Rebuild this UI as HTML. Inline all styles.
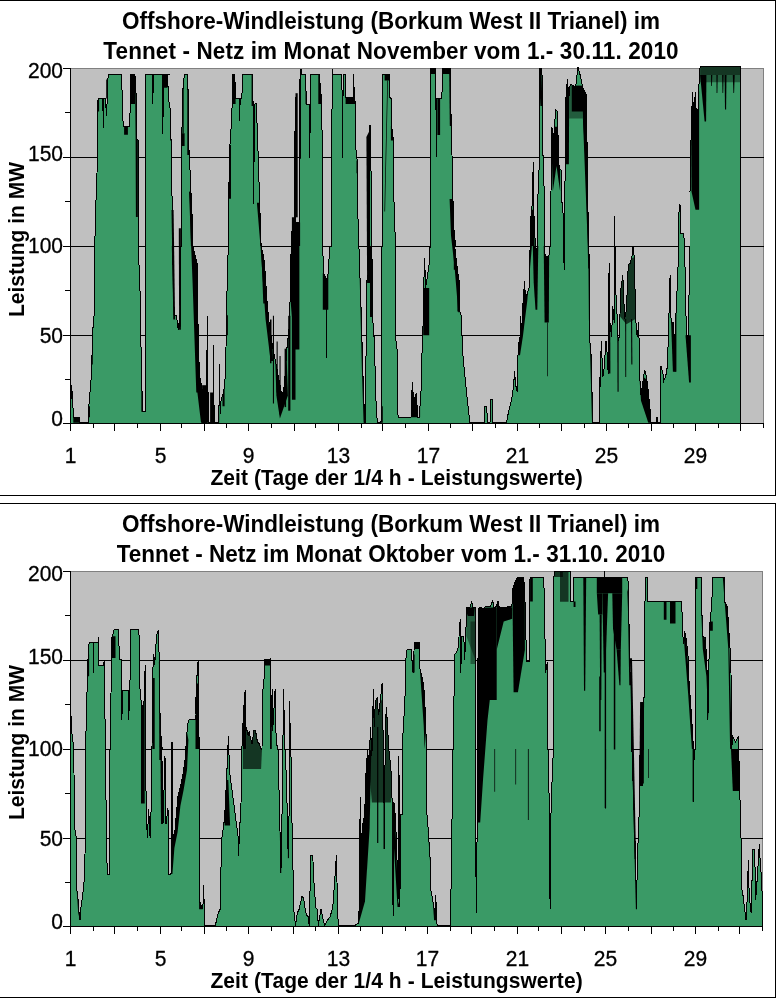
<!DOCTYPE html>
<html><head><meta charset="utf-8"><style>
html,body{margin:0;padding:0;background:#fff;width:778px;height:999px;overflow:hidden}
svg{display:block}
text{font-family:"Liberation Sans",Arial,sans-serif;fill:#000}
.t{font-size:22.5px;font-weight:bold;text-anchor:middle}
.yl{font-size:21px;text-anchor:end;stroke:#000;stroke-width:0.3px}
.xl{font-size:21px;text-anchor:middle;stroke:#000;stroke-width:0.3px}
.xt{font-size:21px;font-weight:bold;text-anchor:middle}
.yt{font-size:21px;font-weight:bold;text-anchor:middle}
</style></head><body>
<svg width="778" height="999" viewBox="0 0 778 999" shape-rendering="crispEdges">
<rect x="0" y="0" width="776" height="1" fill="#000"/>
<rect x="0" y="495" width="776" height="1" fill="#000"/>
<rect x="775" y="0" width="1" height="496" fill="#000"/>
<rect x="70" y="68" width="694" height="356" fill="#c0c0c0"/>
<rect x="70" y="68" width="694" height="1" fill="#808080"/>
<rect x="763" y="68" width="1" height="356" fill="#808080"/>
<rect x="70" y="157" width="694" height="1" fill="#000"/>
<rect x="70" y="246" width="694" height="1" fill="#000"/>
<rect x="70" y="335" width="694" height="1" fill="#000"/>
<clipPath id="clip0"><path d="M70.0,423.5 L70.0,381.7 L70.9,384.4 L72.2,391.7 L72.7,399.0 L73.3,417.2 L79.1,417.2 L79.5,422.7 L88.2,422.7 L88.8,406.3 L90.0,391.7 L90.9,384.4 L91.5,364.4 L92.2,351.6 L92.8,335.3 L93.3,317.0 L94.2,316.1 L94.2,246.0 L94.6,246.0 L95.5,224.3 L95.9,206.1 L96.4,180.6 L97.0,173.3 L97.3,155.1 L97.3,107.7 L97.7,102.3 L98.2,98.2 L102.8,98.2 L103.3,127.8 L103.9,98.2 L105.5,98.2 L106.4,115.9 L107.3,98.2 L107.7,79.5 L108.6,74.6 L121.5,74.6 L122.5,104.1 L123.2,126.8 L129.2,126.8 L130.1,111.4 L130.7,104.1 L131.0,74.0 L134.8,74.0 L135.9,82.2 L136.5,138.7 L138.3,140.5 L138.3,246.0 L138.3,246.0 L140.1,293.4 L140.1,335.3 L141.4,351.6 L141.9,388.1 L142.9,411.8 L145.2,411.8 L145.2,246.0 L145.2,246.0 L145.2,74.6 L152.5,74.6 L152.9,104.1 L153.2,74.6 L162.5,74.6 L162.9,134.1 L163.3,74.6 L170.0,74.6 L167.8,74.6 L168.2,96.8 L170.0,107.7 L170.9,133.2 L171.8,180.6 L172.7,246.0 L172.7,246.0 L173.6,300.6 L174.6,315.2 L176.4,315.2 L178.2,329.8 L180.0,315.2 L180.9,300.6 L180.9,246.0 L181.3,246.0 L181.3,146.0 L181.8,136.9 L182.8,91.3 L183.7,79.5 L184.9,74.0 L187.7,74.0 L187.9,79.5 L188.2,104.1 L189.1,155.1 L190.0,169.6 L190.9,191.5 L191.9,209.7 L192.8,246.0 L192.8,246.0 L197.3,264.2 L197.7,318.9 L198.8,335.3 L199.1,373.5 L201.9,388.1 L203.7,406.3 L204.6,422.7 L206.4,422.7 L207.3,316.1 L208.3,422.7 L213.4,422.7 L213.7,345.3 L214.1,422.7 L216.4,422.7 L218.8,422.7 L219.5,364.4 L220.1,413.6 L221.0,400.8 L223.7,391.7 L225.6,373.5 L226.5,315.2 L227.4,273.3 L228.3,246.0 L228.7,246.0 L228.7,198.8 L229.7,145.1 L230.1,144.1 L231.6,118.6 L232.3,100.4 L232.8,74.0 L234.7,74.0 L235.6,98.2 L239.4,98.2 L239.8,121.4 L240.1,98.2 L241.9,98.2 L242.5,74.0 L252.0,74.0 L252.9,85.9 L253.8,204.3 L254.3,105.9 L255.2,103.2 L256.3,103.2 L257.4,133.2 L258.3,158.7 L259.3,191.5 L260.2,218.8 L261.1,246.0 L263.8,257.5 L264.9,269.0 L267.2,303.4 L269.5,326.4 L273.0,349.4 L277.6,372.4 L281.0,390.8 L282.2,395.4 L283.3,390.8 L284.5,383.9 L286.8,349.4 L289.1,328.7 L290.2,296.6 L291.4,234.5 L293.7,222.5 L294.8,222.5 L295.1,97.7 L295.5,97.7 L295.9,222.5 L299.1,222.5 L299.5,100.4 L300.1,74.9 L301.0,68.6 L301.3,74.0 L305.5,74.0 L306.4,104.1 L309.2,104.1 L309.7,157.8 L310.4,104.1 L311.0,74.9 L318.3,74.0 L319.2,74.0 L321.9,104.1 L322.5,246.0 L322.8,246.0 L323.4,273.3 L326.1,278.8 L326.5,358.0 L326.8,278.8 L328.3,273.3 L329.7,246.0 L331.0,246.0 L331.0,136.9 L331.9,118.6 L332.5,68.6 L332.8,74.6 L341.9,74.6 L342.5,157.8 L343.2,74.6 L345.6,74.6 L345.6,97.7 L353.4,97.7 L353.8,74.0 L354.2,97.7 L355.6,104.1 L355.6,146.0 L357.4,162.4 L358.3,246.0 L358.9,246.0 L361.1,309.8 L362.9,373.5 L364.7,422.7 L365.4,422.7 L366.2,337.1 L366.5,282.4 L368.4,273.3 L369.3,246.0 L369.6,125.9 L370.5,125.9 L372.7,318.9 L374.6,344.4 L375.5,391.7 L377.3,422.7 L380.9,422.7 L381.8,406.3 L381.8,246.0 L382.4,246.0 L382.4,74.0 L389.7,74.0 L390.0,97.7 L391.5,98.6 L391.9,127.8 L392.8,135.0 L393.3,140.5 L393.7,191.5 L394.6,220.6 L395.5,246.0 L395.5,246.0 L395.5,337.1 L397.3,351.6 L397.3,406.3 L398.2,417.2 L411.0,417.2 L412.3,381.7 L413.7,400.8 L416.4,393.5 L417.7,417.2 L419.2,417.2 L421.0,391.7 L421.9,355.3 L422.8,337.1 L423.7,287.9 L424.6,257.8 L425.6,287.9 L429.2,264.2 L430.1,246.0 L430.5,246.0 L430.5,68.6 L435.2,68.6 L435.9,98.6 L436.5,156.9 L437.0,98.6 L441.9,98.6 L442.5,68.0 L450.1,68.0 L451.1,118.6 L452.0,155.1 L452.9,197.0 L453.8,227.9 L455.6,246.0 L454.7,246.0 L457.4,269.7 L459.3,282.4 L459.3,309.8 L461.1,315.2 L462.9,355.3 L464.7,373.5 L466.5,391.7 L468.4,409.9 L470.0,422.7 L470.0,421.8 L470.9,422.7 L484.6,422.7 L484.9,406.3 L486.8,406.3 L487.3,422.7 L490.0,422.7 L490.9,399.0 L492.2,399.0 L492.8,422.7 L506.4,422.7 L508.2,413.6 L510.0,406.3 L511.8,399.0 L513.7,384.4 L514.6,370.8 L515.5,384.4 L517.3,391.7 L518.2,346.2 L520.0,337.1 L520.4,316.1 L521.9,333.4 L522.8,306.1 L524.6,280.6 L525.5,300.6 L527.3,293.4 L529.1,287.9 L530.1,246.0 L530.1,222.5 L531.9,209.7 L533.3,162.4 L534.1,222.5 L535.5,246.0 L535.9,256.9 L537.3,246.0 L537.3,246.0 L538.3,173.3 L539.2,169.6 L539.7,68.0 L541.0,68.0 L542.8,80.4 L542.3,136.9 L543.7,173.3 L544.6,209.7 L544.6,246.0 L545.2,256.9 L548.8,256.9 L550.1,246.0 L551.0,191.5 L551.9,126.8 L552.8,136.9 L554.1,133.2 L555.6,109.5 L557.4,111.4 L558.3,146.0 L559.2,169.6 L561.0,169.6 L561.9,202.4 L562.8,204.3 L563.8,246.0 L564.1,269.7 L564.5,246.0 L564.7,246.0 L565.2,146.0 L565.9,98.6 L567.4,79.5 L568.9,96.8 L570.1,84.9 L571.9,84.9 L573.8,85.9 L575.6,87.7 L578.0,66.7 L580.1,74.9 L582.9,87.7 L584.7,91.3 L586.0,93.1 L587.1,146.0 L587.8,187.9 L588.3,246.0 L589.3,256.9 L589.3,335.3 L591.1,355.3 L592.0,391.7 L592.9,422.7 L599.1,422.7 L599.1,377.1 L600.0,388.1 L601.3,340.7 L602.8,377.1 L603.7,373.5 L606.0,340.7 L607.3,355.3 L608.2,373.5 L609.1,263.3 L610.0,322.5 L611.5,337.1 L612.8,306.1 L614.2,322.5 L614.4,246.0 L614.4,216.1 L614.8,216.1 L615.0,246.0 L615.1,282.4 L616.4,300.6 L618.2,340.7 L619.1,337.1 L621.0,287.9 L622.8,275.1 L624.6,318.9 L626.4,309.8 L628.3,264.2 L630.1,263.3 L631.9,256.9 L633.0,246.0 L633.4,246.0 L634.6,264.2 L635.2,300.6 L636.4,333.4 L637.4,335.3 L638.8,322.5 L639.5,373.5 L641.0,395.4 L642.8,382.6 L644.6,369.9 L646.5,377.1 L648.3,391.7 L650.1,409.9 L651.0,422.7 L656.7,422.7 L657.0,417.2 L657.4,422.7 L660.1,422.7 L661.0,366.2 L662.9,373.5 L663.8,380.8 L665.6,377.1 L667.4,366.2 L668.3,337.1 L670.1,275.1 L671.1,322.5 L673.8,322.5 L674.7,369.9 L675.6,322.5 L677.4,282.4 L678.9,246.0 L678.2,218.8 L680.0,204.3 L680.9,233.4 L683.7,233.4 L684.6,246.0 L686.4,335.3 L688.2,335.3 L690.0,246.0 L690.0,191.5 L691.5,115.0 L692.8,92.2 L693.3,115.0 L695.5,92.2 L696.4,118.6 L697.3,125.9 L699.1,82.2 L700.1,66.7 L740.7,66.7 L740.7,246.0 L740.7,423.5Z"/></clipPath>
<path d="M70.0,423.5 L70.0,381.7 L70.9,384.4 L72.2,391.7 L72.7,399.0 L73.3,417.2 L79.1,417.2 L79.5,422.7 L88.2,422.7 L88.8,406.3 L90.0,391.7 L90.9,384.4 L91.5,364.4 L92.2,351.6 L92.8,335.3 L93.3,317.0 L94.2,316.1 L94.2,246.0 L94.6,246.0 L95.5,224.3 L95.9,206.1 L96.4,180.6 L97.0,173.3 L97.3,155.1 L97.3,107.7 L97.7,102.3 L98.2,98.2 L102.8,98.2 L103.3,127.8 L103.9,98.2 L105.5,98.2 L106.4,115.9 L107.3,98.2 L107.7,79.5 L108.6,74.6 L121.5,74.6 L122.5,104.1 L123.2,126.8 L129.2,126.8 L130.1,111.4 L130.7,104.1 L131.0,74.0 L134.8,74.0 L135.9,82.2 L136.5,138.7 L138.3,140.5 L138.3,246.0 L138.3,246.0 L140.1,293.4 L140.1,335.3 L141.4,351.6 L141.9,388.1 L142.9,411.8 L145.2,411.8 L145.2,246.0 L145.2,246.0 L145.2,74.6 L152.5,74.6 L152.9,104.1 L153.2,74.6 L162.5,74.6 L162.9,134.1 L163.3,74.6 L170.0,74.6 L167.8,74.6 L168.2,96.8 L170.0,107.7 L170.9,133.2 L171.8,180.6 L172.7,246.0 L172.7,246.0 L173.6,300.6 L174.6,315.2 L176.4,315.2 L178.2,329.8 L180.0,315.2 L180.9,300.6 L180.9,246.0 L181.3,246.0 L181.3,146.0 L181.8,136.9 L182.8,91.3 L183.7,79.5 L184.9,74.0 L187.7,74.0 L187.9,79.5 L188.2,104.1 L189.1,155.1 L190.0,169.6 L190.9,191.5 L191.9,209.7 L192.8,246.0 L192.8,246.0 L197.3,264.2 L197.7,318.9 L198.8,335.3 L199.1,373.5 L201.9,388.1 L203.7,406.3 L204.6,422.7 L206.4,422.7 L207.3,316.1 L208.3,422.7 L213.4,422.7 L213.7,345.3 L214.1,422.7 L216.4,422.7 L218.8,422.7 L219.5,364.4 L220.1,413.6 L221.0,400.8 L223.7,391.7 L225.6,373.5 L226.5,315.2 L227.4,273.3 L228.3,246.0 L228.7,246.0 L228.7,198.8 L229.7,145.1 L230.1,144.1 L231.6,118.6 L232.3,100.4 L232.8,74.0 L234.7,74.0 L235.6,98.2 L239.4,98.2 L239.8,121.4 L240.1,98.2 L241.9,98.2 L242.5,74.0 L252.0,74.0 L252.9,85.9 L253.8,204.3 L254.3,105.9 L255.2,103.2 L256.3,103.2 L257.4,133.2 L258.3,158.7 L259.3,191.5 L260.2,218.8 L261.1,246.0 L263.8,257.5 L264.9,269.0 L267.2,303.4 L269.5,326.4 L273.0,349.4 L277.6,372.4 L281.0,390.8 L282.2,395.4 L283.3,390.8 L284.5,383.9 L286.8,349.4 L289.1,328.7 L290.2,296.6 L291.4,234.5 L293.7,222.5 L294.8,222.5 L295.1,97.7 L295.5,97.7 L295.9,222.5 L299.1,222.5 L299.5,100.4 L300.1,74.9 L301.0,68.6 L301.3,74.0 L305.5,74.0 L306.4,104.1 L309.2,104.1 L309.7,157.8 L310.4,104.1 L311.0,74.9 L318.3,74.0 L319.2,74.0 L321.9,104.1 L322.5,246.0 L322.8,246.0 L323.4,273.3 L326.1,278.8 L326.5,358.0 L326.8,278.8 L328.3,273.3 L329.7,246.0 L331.0,246.0 L331.0,136.9 L331.9,118.6 L332.5,68.6 L332.8,74.6 L341.9,74.6 L342.5,157.8 L343.2,74.6 L345.6,74.6 L345.6,97.7 L353.4,97.7 L353.8,74.0 L354.2,97.7 L355.6,104.1 L355.6,146.0 L357.4,162.4 L358.3,246.0 L358.9,246.0 L361.1,309.8 L362.9,373.5 L364.7,422.7 L365.4,422.7 L366.2,337.1 L366.5,282.4 L368.4,273.3 L369.3,246.0 L369.6,125.9 L370.5,125.9 L372.7,318.9 L374.6,344.4 L375.5,391.7 L377.3,422.7 L380.9,422.7 L381.8,406.3 L381.8,246.0 L382.4,246.0 L382.4,74.0 L389.7,74.0 L390.0,97.7 L391.5,98.6 L391.9,127.8 L392.8,135.0 L393.3,140.5 L393.7,191.5 L394.6,220.6 L395.5,246.0 L395.5,246.0 L395.5,337.1 L397.3,351.6 L397.3,406.3 L398.2,417.2 L411.0,417.2 L412.3,381.7 L413.7,400.8 L416.4,393.5 L417.7,417.2 L419.2,417.2 L421.0,391.7 L421.9,355.3 L422.8,337.1 L423.7,287.9 L424.6,257.8 L425.6,287.9 L429.2,264.2 L430.1,246.0 L430.5,246.0 L430.5,68.6 L435.2,68.6 L435.9,98.6 L436.5,156.9 L437.0,98.6 L441.9,98.6 L442.5,68.0 L450.1,68.0 L451.1,118.6 L452.0,155.1 L452.9,197.0 L453.8,227.9 L455.6,246.0 L454.7,246.0 L457.4,269.7 L459.3,282.4 L459.3,309.8 L461.1,315.2 L462.9,355.3 L464.7,373.5 L466.5,391.7 L468.4,409.9 L470.0,422.7 L470.0,421.8 L470.9,422.7 L484.6,422.7 L484.9,406.3 L486.8,406.3 L487.3,422.7 L490.0,422.7 L490.9,399.0 L492.2,399.0 L492.8,422.7 L506.4,422.7 L508.2,413.6 L510.0,406.3 L511.8,399.0 L513.7,384.4 L514.6,370.8 L515.5,384.4 L517.3,391.7 L518.2,346.2 L520.0,337.1 L520.4,316.1 L521.9,333.4 L522.8,306.1 L524.6,280.6 L525.5,300.6 L527.3,293.4 L529.1,287.9 L530.1,246.0 L530.1,222.5 L531.9,209.7 L533.3,162.4 L534.1,222.5 L535.5,246.0 L535.9,256.9 L537.3,246.0 L537.3,246.0 L538.3,173.3 L539.2,169.6 L539.7,68.0 L541.0,68.0 L542.8,80.4 L542.3,136.9 L543.7,173.3 L544.6,209.7 L544.6,246.0 L545.2,256.9 L548.8,256.9 L550.1,246.0 L551.0,191.5 L551.9,126.8 L552.8,136.9 L554.1,133.2 L555.6,109.5 L557.4,111.4 L558.3,146.0 L559.2,169.6 L561.0,169.6 L561.9,202.4 L562.8,204.3 L563.8,246.0 L564.1,269.7 L564.5,246.0 L564.7,246.0 L565.2,146.0 L565.9,98.6 L567.4,79.5 L568.9,96.8 L570.1,84.9 L571.9,84.9 L573.8,85.9 L575.6,87.7 L578.0,66.7 L580.1,74.9 L582.9,87.7 L584.7,91.3 L586.0,93.1 L587.1,146.0 L587.8,187.9 L588.3,246.0 L589.3,256.9 L589.3,335.3 L591.1,355.3 L592.0,391.7 L592.9,422.7 L599.1,422.7 L599.1,377.1 L600.0,388.1 L601.3,340.7 L602.8,377.1 L603.7,373.5 L606.0,340.7 L607.3,355.3 L608.2,373.5 L609.1,263.3 L610.0,322.5 L611.5,337.1 L612.8,306.1 L614.2,322.5 L614.4,246.0 L614.4,216.1 L614.8,216.1 L615.0,246.0 L615.1,282.4 L616.4,300.6 L618.2,340.7 L619.1,337.1 L621.0,287.9 L622.8,275.1 L624.6,318.9 L626.4,309.8 L628.3,264.2 L630.1,263.3 L631.9,256.9 L633.0,246.0 L633.4,246.0 L634.6,264.2 L635.2,300.6 L636.4,333.4 L637.4,335.3 L638.8,322.5 L639.5,373.5 L641.0,395.4 L642.8,382.6 L644.6,369.9 L646.5,377.1 L648.3,391.7 L650.1,409.9 L651.0,422.7 L656.7,422.7 L657.0,417.2 L657.4,422.7 L660.1,422.7 L661.0,366.2 L662.9,373.5 L663.8,380.8 L665.6,377.1 L667.4,366.2 L668.3,337.1 L670.1,275.1 L671.1,322.5 L673.8,322.5 L674.7,369.9 L675.6,322.5 L677.4,282.4 L678.9,246.0 L678.2,218.8 L680.0,204.3 L680.9,233.4 L683.7,233.4 L684.6,246.0 L686.4,335.3 L688.2,335.3 L690.0,246.0 L690.0,191.5 L691.5,115.0 L692.8,92.2 L693.3,115.0 L695.5,92.2 L696.4,118.6 L697.3,125.9 L699.1,82.2 L700.1,66.7 L740.7,66.7 L740.7,246.0 L740.7,423.5Z" fill="#3a9a66" shape-rendering="auto"/>
<g clip-path="url(#clip0)">
<path d="M70.0,381.7 L72.2,381.7 L72.7,399.0 L70.0,399.0Z" fill="#000" shape-rendering="auto"/>
<path d="M73.3,417.2 L79.1,417.2 L79.1,422.7 L73.3,422.7Z" fill="#000" shape-rendering="auto"/>
<path d="M88.2,406.3 L90.0,406.3 L90.0,417.2 L88.2,417.2Z" fill="#000" shape-rendering="auto"/>
<path d="M90.9,351.6 L92.8,351.6 L92.8,364.4 L90.9,364.4Z" fill="#000" shape-rendering="auto"/>
<path d="M97.0,98.2 L99.1,98.2 L99.1,111.4 L97.0,111.4Z" fill="#000" shape-rendering="auto"/>
<path d="M124.1,126.8 L127.9,126.8 L127.9,134.7 L124.1,134.7Z" fill="#000" shape-rendering="auto"/>
<path d="M130.7,74.0 L135.0,74.0 L135.0,104.1 L130.7,104.1Z" fill="#000" shape-rendering="auto"/>
<path d="M135.0,74.0 L136.5,74.0 L137.8,138.7 L137.8,217.0 L135.9,217.0 L135.6,138.7Z" fill="#000" shape-rendering="auto"/>
<path d="M141.9,388.1 L145.2,388.1 L145.2,411.8 L141.9,411.8Z" fill="#000" shape-rendering="auto"/>
<path d="M162.9,74.0 L167.4,74.0 L167.4,87.7 L162.9,87.7Z" fill="#000" shape-rendering="auto"/>
<path d="M170.0,107.7 L170.9,107.7 L170.9,140.5 L170.0,140.5Z" fill="#000" shape-rendering="auto"/>
<path d="M171.8,246.0 L175.5,246.0 L175.5,315.2 L173.6,315.2Z" fill="#000" shape-rendering="auto"/>
<path d="M178.2,246.0 L180.9,246.0 L180.9,329.8 L179.1,329.8Z" fill="#000" shape-rendering="auto"/>
<path d="M180.9,133.2 L184.6,133.2 L184.6,146.0 L180.9,146.0Z" fill="#000" shape-rendering="auto"/>
<path d="M182.4,79.5 L183.7,79.5 L183.7,133.2 L182.4,133.2Z" fill="#000" shape-rendering="auto"/>
<path d="M187.3,79.5 L189.1,79.5 L189.1,155.1 L187.3,155.1Z" fill="#000" shape-rendering="auto"/>
<path d="M189.7,191.5 L191.9,191.5 L193.3,246.0 L190.9,246.0Z" fill="#000" shape-rendering="auto"/>
<path d="M192.8,251.5 L197.3,251.5 L199.1,373.5 L201.9,388.1 L203.7,406.3 L204.6,422.7 L201.0,422.7 L197.3,391.7 L195.5,318.9Z" fill="#000" shape-rendering="auto"/>
<path d="M201.9,382.6 L219.2,382.6 L219.2,422.7 L201.9,422.7Z" fill="#000" shape-rendering="auto"/>
<path d="M222.5,373.5 L224.6,373.5 L224.6,406.3 L222.5,406.3Z" fill="#000" shape-rendering="auto"/>
<path d="M225.6,315.2 L227.9,315.2 L227.9,335.3 L225.6,335.3Z" fill="#000" shape-rendering="auto"/>
<path d="M228.3,145.1 L231.0,145.1 L231.0,198.8 L228.3,198.8Z" fill="#000" shape-rendering="auto"/>
<path d="M231.9,74.0 L235.6,74.0 L235.6,104.1 L231.9,104.1Z" fill="#000" shape-rendering="auto"/>
<path d="M251.6,74.0 L253.8,74.0 L253.8,105.9 L251.6,105.9Z" fill="#000" shape-rendering="auto"/>
<path d="M258.3,140.5 L259.6,140.5 L261.4,246.0 L260.2,246.0Z" fill="#000" shape-rendering="auto"/>
<path d="M262.9,227.9 L265.6,227.9 L265.6,246.0 L262.9,246.0Z" fill="#000" shape-rendering="auto"/>
<path d="M291.9,222.5 L300.1,222.5 L300.1,246.0 L291.9,246.0Z" fill="#000" shape-rendering="auto"/>
<path d="M297.3,74.9 L301.0,74.9 L301.0,158.7 L297.3,158.7Z" fill="#000" shape-rendering="auto"/>
<path d="M305.5,74.0 L309.2,74.0 L309.2,104.1 L305.5,104.1Z" fill="#000" shape-rendering="auto"/>
<path d="M318.3,74.0 L322.8,74.0 L322.8,104.1 L318.3,104.1Z" fill="#000" shape-rendering="auto"/>
<path d="M322.8,273.3 L328.3,273.3 L328.3,309.8 L322.8,309.8Z" fill="#000" shape-rendering="auto"/>
<path d="M345.6,97.7 L355.6,97.7 L355.6,104.1 L345.6,104.1Z" fill="#000" shape-rendering="auto"/>
<path d="M356.5,160.5 L359.3,160.5 L359.3,173.3 L356.5,173.3Z" fill="#000" shape-rendering="auto"/>
<path d="M358.9,246.0 L360.7,246.0 L363.3,373.5 L365.1,422.7 L363.6,422.7 L362.0,373.5Z" fill="#000" shape-rendering="auto"/>
<path d="M370.0,246.0 L372.7,246.0 L372.7,317.0 L370.0,317.0Z" fill="#000" shape-rendering="auto"/>
<path d="M377.3,406.3 L382.8,406.3 L382.8,422.7 L377.3,422.7Z" fill="#000" shape-rendering="auto"/>
<path d="M430.5,68.0 L435.6,68.0 L435.6,74.0 L430.5,74.0Z" fill="#000" shape-rendering="auto"/>
<path d="M441.9,68.0 L450.1,68.0 L450.1,74.0 L441.9,74.0Z" fill="#000" shape-rendering="auto"/>
<path d="M437.4,98.6 L440.1,98.6 L440.1,135.0 L437.4,135.0Z" fill="#000" shape-rendering="auto"/>
<path d="M384.6,74.0 L389.7,74.0 L389.7,80.4 L384.6,80.4Z" fill="#000" shape-rendering="auto"/>
<path d="M387.3,80.4 L388.0,80.4 L385.8,176.9 L385.1,211.5 L384.4,211.5 L385.1,176.9Z" fill="#000" shape-rendering="auto"/>
<path d="M390.9,125.9 L393.7,125.9 L393.7,140.5 L390.9,140.5Z" fill="#000" shape-rendering="auto"/>
<path d="M449.2,74.0 L451.6,74.0 L451.6,125.9 L449.8,125.9Z" fill="#000" shape-rendering="auto"/>
<path d="M452.9,197.0 L454.7,197.0 L456.0,246.0 L453.8,246.0Z" fill="#000" shape-rendering="auto"/>
<path d="M411.0,391.7 L420.1,391.7 L420.1,417.2 L411.0,417.2Z" fill="#000" shape-rendering="auto"/>
<path d="M423.2,287.9 L429.2,287.9 L429.2,335.3 L423.2,335.3Z" fill="#000" shape-rendering="auto"/>
<path d="M453.8,246.0 L456.5,246.0 L456.5,269.7 L453.8,269.7Z" fill="#000" shape-rendering="auto"/>
<path d="M457.4,273.3 L461.1,273.3 L461.1,311.6 L457.4,311.6Z" fill="#000" shape-rendering="auto"/>
<path d="M690.9,91.3 L699.1,91.3 L699.1,209.7 L695.5,209.7 L691.5,191.5Z" fill="#000" shape-rendering="auto"/>
<path d="M700.1,66.7 L740.7,66.7 L740.7,74.9 L700.1,74.9Z" fill="#000" fill-opacity="0.65" shape-rendering="auto"/>
<path d="M700.1,74.9 L740.7,74.9 L740.7,82.2 L700.1,82.2Z" fill="#000" fill-opacity="0.4" shape-rendering="auto"/>
<path d="M700.1,74.9 L706.4,74.9 L706.1,121.4 L704.6,121.4Z" fill="#000" shape-rendering="auto"/>
<path d="M711.0,74.9 L712.3,74.9 L711.9,85.9 L711.2,85.9Z" fill="#000" shape-rendering="auto"/>
<path d="M716.4,74.9 L717.7,74.9 L717.4,93.1 L716.6,93.1Z" fill="#000" shape-rendering="auto"/>
<path d="M722.1,74.9 L723.6,74.9 L723.2,93.1 L722.5,93.1Z" fill="#000" shape-rendering="auto"/>
<path d="M724.6,74.9 L726.5,74.9 L726.1,109.5 L725.0,109.5Z" fill="#000" shape-rendering="auto"/>
<path d="M732.8,74.9 L734.7,74.9 L734.1,93.1 L733.4,93.1Z" fill="#000" shape-rendering="auto"/>
<path d="M674.6,300.6 L676.4,300.6 L676.4,371.7 L674.6,371.7Z" fill="#000" shape-rendering="auto"/>
<path d="M685.5,335.3 L690.9,335.3 L690.9,382.6 L689.1,382.6Z" fill="#000" shape-rendering="auto"/>
<path d="M518.2,355.3 L520.0,318.9 L524.6,280.6 L530.1,246.0 L531.9,246.0 L527.3,300.6 L522.8,337.1 L520.0,355.3Z" fill="#000" shape-rendering="auto"/>
<path d="M532.8,246.0 L538.3,246.0 L537.3,309.8 L535.5,309.8 L533.7,282.4Z" fill="#000" shape-rendering="auto"/>
<path d="M543.7,246.0 L549.2,246.0 L548.8,322.5 L544.6,322.5Z" fill="#000" shape-rendering="auto"/>
<path d="M547.0,322.5 L547.7,322.5 L547.7,376.2 L547.0,376.2Z" fill="#000" shape-rendering="auto"/>
<path d="M588.3,246.0 L590.2,246.0 L593.8,422.7 L592.0,422.7 L590.2,355.3 L588.9,318.9Z" fill="#000" shape-rendering="auto"/>
<path d="M538.6,68.0 L541.5,68.0 L542.3,105.9 L540.4,105.9Z" fill="#000" shape-rendering="auto"/>
<path d="M551.0,126.8 L560.1,126.8 L560.1,191.5 L556.5,166.0 L552.8,191.5Z" fill="#000" shape-rendering="auto"/>
<path d="M564.7,82.2 L569.2,82.2 L568.9,164.2 L565.6,164.2Z" fill="#000" shape-rendering="auto"/>
<path d="M569.2,84.9 L585.6,84.9 L585.6,118.6 L569.2,118.6Z" fill="#000" fill-opacity="0.4" shape-rendering="auto"/>
<path d="M582.9,118.6 L587.1,118.6 L588.3,187.9 L587.8,246.0 L585.6,187.9Z" fill="#000" shape-rendering="auto"/>
<path d="M530.1,209.7 L534.6,209.7 L534.6,246.0 L530.1,246.0Z" fill="#000" shape-rendering="auto"/>
<path d="M608.2,263.3 L610.0,263.3 L610.4,373.5 L608.6,373.5Z" fill="#000" shape-rendering="auto"/>
<path d="M613.7,246.0 L615.1,246.0 L614.8,322.5 L614.0,322.5Z" fill="#000" shape-rendering="auto"/>
<path d="M619.1,264.2 L634.6,256.9 L635.5,318.9 L626.4,324.3 L619.1,315.2Z" fill="#000" fill-opacity="0.65" shape-rendering="auto"/>
<path d="M625.2,318.9 L626.2,318.9 L626.2,377.1 L625.3,377.1Z" fill="#000" shape-rendering="auto"/>
<path d="M631.0,318.9 L632.1,318.9 L632.4,364.4 L631.3,364.4Z" fill="#000" shape-rendering="auto"/>
<path d="M617.3,328.0 L618.6,328.0 L618.6,391.7 L617.5,391.7Z" fill="#000" shape-rendering="auto"/>
<path d="M639.2,373.5 L650.1,382.6 L651.0,422.7 L648.3,422.7 L641.0,400.8Z" fill="#000" shape-rendering="auto"/>
<path d="M670.1,275.1 L675.6,275.1 L675.6,371.7 L672.9,371.7 L671.1,322.5Z" fill="#000" shape-rendering="auto"/>
<path d="M291.4,200.0 L299.4,200.0 L299.4,349.4 L294.8,349.4 L290.2,296.6Z" fill="#000" shape-rendering="auto"/>
<path d="M260.3,223.0 L262.6,223.0 L264.9,303.4 L263.3,303.4Z" fill="#000" shape-rendering="auto"/>
<path d="M275.3,360.9 L286.8,360.9 L287.9,395.4 L279.9,418.4 L276.4,395.4Z" fill="#000" shape-rendering="auto"/>
<path d="M268.4,314.9 L271.8,314.9 L273.0,360.9 L270.2,360.9Z" fill="#000" shape-rendering="auto"/>
<path d="M141.4,358.9 L145.4,358.9 L145.4,411.8 L141.4,411.8Z" fill="#000" shape-rendering="auto"/>
<path d="M189.0,191.7 L192.6,191.7 L196.3,283.0 L199.9,392.5 L196.3,392.5 L192.6,283.0Z" fill="#000" shape-rendering="auto"/>
<path d="M256.9,202.7 L261.2,202.7 L265.6,283.0 L270.0,337.7 L270.0,356.0 L265.6,319.5 L260.5,246.5Z" fill="#000" shape-rendering="auto"/>
<path d="M449.6,199.0 L454.7,199.0 L457.6,268.4 L461.2,312.2 L458.3,312.2 L454.7,268.4 L451.0,235.5Z" fill="#000" shape-rendering="auto"/>
<path d="M582.0,85.9 L586.4,85.9 L588.2,173.5 L590.4,268.4 L588.2,268.4 L586.1,173.5 L583.1,118.7Z" fill="#000" shape-rendering="auto"/>
<path d="M571.8,85.9 L584.6,85.9 L584.6,111.4 L571.8,111.4Z" fill="#000" shape-rendering="auto"/>
</g>
<path d="M106.2,79.5 L107.9,79.5 L107.9,98.6 L106.2,98.6Z" fill="#000" shape-rendering="auto"/>
<path d="M171.5,210.0 L173.6,210.0 L175.1,319.5 L173.3,319.5Z" fill="#000" shape-rendering="auto"/>
<path d="M178.8,228.2 L180.9,228.2 L180.9,326.8 L179.1,326.8Z" fill="#000" shape-rendering="auto"/>
<path d="M202.1,385.2 L206.5,385.2 L206.5,423.5 L202.1,423.5Z" fill="#000" shape-rendering="auto"/>
<path d="M210.1,392.5 L213.1,392.5 L213.1,423.5 L210.1,423.5Z" fill="#000" shape-rendering="auto"/>
<path d="M270.0,319.5 L271.5,319.5 L271.5,363.3 L270.0,363.3Z" fill="#000" shape-rendering="auto"/>
<path d="M272.9,315.8 L274.0,315.8 L274.0,403.4 L272.9,403.4Z" fill="#000" shape-rendering="auto"/>
<path d="M276.6,341.4 L277.7,341.4 L277.7,392.5 L276.6,392.5Z" fill="#000" shape-rendering="auto"/>
<path d="M279.5,356.0 L280.6,356.0 L280.6,414.4 L279.5,414.4Z" fill="#000" shape-rendering="auto"/>
<path d="M284.6,348.7 L286.1,348.7 L286.1,407.1 L284.6,407.1Z" fill="#000" shape-rendering="auto"/>
<path d="M288.2,315.8 L290.4,315.8 L290.4,410.7 L288.2,410.7Z" fill="#000" shape-rendering="auto"/>
<path d="M291.9,217.3 L295.5,217.3 L295.5,399.8 L291.9,399.8Z" fill="#000" shape-rendering="auto"/>
<path d="M295.5,93.2 L297.7,93.2 L297.7,217.3 L295.5,217.3Z" fill="#000" shape-rendering="auto"/>
<path d="M366.4,137.0 L370.0,129.7 L370.0,283.0 L367.1,283.0Z" fill="#000" shape-rendering="auto"/>
<path d="M70.0,423.5 L70.0,381.7 L70.9,384.4 L72.2,391.7 L72.7,399.0 L73.3,417.2 L79.1,417.2 L79.5,422.7 L88.2,422.7 L88.8,406.3 L90.0,391.7 L90.9,384.4 L91.5,364.4 L92.2,351.6 L92.8,335.3 L93.3,317.0 L94.2,316.1 L94.2,246.0 L94.6,246.0 L95.5,224.3 L95.9,206.1 L96.4,180.6 L97.0,173.3 L97.3,155.1 L97.3,107.7 L97.7,102.3 L98.2,98.2 L102.8,98.2 L103.3,127.8 L103.9,98.2 L105.5,98.2 L106.4,115.9 L107.3,98.2 L107.7,79.5 L108.6,74.6 L121.5,74.6 L122.5,104.1 L123.2,126.8 L129.2,126.8 L130.1,111.4 L130.7,104.1 L131.0,74.0 L134.8,74.0 L135.9,82.2 L136.5,138.7 L138.3,140.5 L138.3,246.0 L138.3,246.0 L140.1,293.4 L140.1,335.3 L141.4,351.6 L141.9,388.1 L142.9,411.8 L145.2,411.8 L145.2,246.0 L145.2,246.0 L145.2,74.6 L152.5,74.6 L152.9,104.1 L153.2,74.6 L162.5,74.6 L162.9,134.1 L163.3,74.6 L170.0,74.6 L167.8,74.6 L168.2,96.8 L170.0,107.7 L170.9,133.2 L171.8,180.6 L172.7,246.0 L172.7,246.0 L173.6,300.6 L174.6,315.2 L176.4,315.2 L178.2,329.8 L180.0,315.2 L180.9,300.6 L180.9,246.0 L181.3,246.0 L181.3,146.0 L181.8,136.9 L182.8,91.3 L183.7,79.5 L184.9,74.0 L187.7,74.0 L187.9,79.5 L188.2,104.1 L189.1,155.1 L190.0,169.6 L190.9,191.5 L191.9,209.7 L192.8,246.0 L192.8,246.0 L197.3,264.2 L197.7,318.9 L198.8,335.3 L199.1,373.5 L201.9,388.1 L203.7,406.3 L204.6,422.7 L206.4,422.7 L207.3,316.1 L208.3,422.7 L213.4,422.7 L213.7,345.3 L214.1,422.7 L216.4,422.7 L218.8,422.7 L219.5,364.4 L220.1,413.6 L221.0,400.8 L223.7,391.7 L225.6,373.5 L226.5,315.2 L227.4,273.3 L228.3,246.0 L228.7,246.0 L228.7,198.8 L229.7,145.1 L230.1,144.1 L231.6,118.6 L232.3,100.4 L232.8,74.0 L234.7,74.0 L235.6,98.2 L239.4,98.2 L239.8,121.4 L240.1,98.2 L241.9,98.2 L242.5,74.0 L252.0,74.0 L252.9,85.9 L253.8,204.3 L254.3,105.9 L255.2,103.2 L256.3,103.2 L257.4,133.2 L258.3,158.7 L259.3,191.5 L260.2,218.8 L261.1,246.0 L263.8,257.5 L264.9,269.0 L267.2,303.4 L269.5,326.4 L273.0,349.4 L277.6,372.4 L281.0,390.8 L282.2,395.4 L283.3,390.8 L284.5,383.9 L286.8,349.4 L289.1,328.7 L290.2,296.6 L291.4,234.5 L293.7,222.5 L294.8,222.5 L295.1,97.7 L295.5,97.7 L295.9,222.5 L299.1,222.5 L299.5,100.4 L300.1,74.9 L301.0,68.6 L301.3,74.0 L305.5,74.0 L306.4,104.1 L309.2,104.1 L309.7,157.8 L310.4,104.1 L311.0,74.9 L318.3,74.0 L319.2,74.0 L321.9,104.1 L322.5,246.0 L322.8,246.0 L323.4,273.3 L326.1,278.8 L326.5,358.0 L326.8,278.8 L328.3,273.3 L329.7,246.0 L331.0,246.0 L331.0,136.9 L331.9,118.6 L332.5,68.6 L332.8,74.6 L341.9,74.6 L342.5,157.8 L343.2,74.6 L345.6,74.6 L345.6,97.7 L353.4,97.7 L353.8,74.0 L354.2,97.7 L355.6,104.1 L355.6,146.0 L357.4,162.4 L358.3,246.0 L358.9,246.0 L361.1,309.8 L362.9,373.5 L364.7,422.7 L365.4,422.7 L366.2,337.1 L366.5,282.4 L368.4,273.3 L369.3,246.0 L369.6,125.9 L370.5,125.9 L372.7,318.9 L374.6,344.4 L375.5,391.7 L377.3,422.7 L380.9,422.7 L381.8,406.3 L381.8,246.0 L382.4,246.0 L382.4,74.0 L389.7,74.0 L390.0,97.7 L391.5,98.6 L391.9,127.8 L392.8,135.0 L393.3,140.5 L393.7,191.5 L394.6,220.6 L395.5,246.0 L395.5,246.0 L395.5,337.1 L397.3,351.6 L397.3,406.3 L398.2,417.2 L411.0,417.2 L412.3,381.7 L413.7,400.8 L416.4,393.5 L417.7,417.2 L419.2,417.2 L421.0,391.7 L421.9,355.3 L422.8,337.1 L423.7,287.9 L424.6,257.8 L425.6,287.9 L429.2,264.2 L430.1,246.0 L430.5,246.0 L430.5,68.6 L435.2,68.6 L435.9,98.6 L436.5,156.9 L437.0,98.6 L441.9,98.6 L442.5,68.0 L450.1,68.0 L451.1,118.6 L452.0,155.1 L452.9,197.0 L453.8,227.9 L455.6,246.0 L454.7,246.0 L457.4,269.7 L459.3,282.4 L459.3,309.8 L461.1,315.2 L462.9,355.3 L464.7,373.5 L466.5,391.7 L468.4,409.9 L470.0,422.7 L470.0,421.8 L470.9,422.7 L484.6,422.7 L484.9,406.3 L486.8,406.3 L487.3,422.7 L490.0,422.7 L490.9,399.0 L492.2,399.0 L492.8,422.7 L506.4,422.7 L508.2,413.6 L510.0,406.3 L511.8,399.0 L513.7,384.4 L514.6,370.8 L515.5,384.4 L517.3,391.7 L518.2,346.2 L520.0,337.1 L520.4,316.1 L521.9,333.4 L522.8,306.1 L524.6,280.6 L525.5,300.6 L527.3,293.4 L529.1,287.9 L530.1,246.0 L530.1,222.5 L531.9,209.7 L533.3,162.4 L534.1,222.5 L535.5,246.0 L535.9,256.9 L537.3,246.0 L537.3,246.0 L538.3,173.3 L539.2,169.6 L539.7,68.0 L541.0,68.0 L542.8,80.4 L542.3,136.9 L543.7,173.3 L544.6,209.7 L544.6,246.0 L545.2,256.9 L548.8,256.9 L550.1,246.0 L551.0,191.5 L551.9,126.8 L552.8,136.9 L554.1,133.2 L555.6,109.5 L557.4,111.4 L558.3,146.0 L559.2,169.6 L561.0,169.6 L561.9,202.4 L562.8,204.3 L563.8,246.0 L564.1,269.7 L564.5,246.0 L564.7,246.0 L565.2,146.0 L565.9,98.6 L567.4,79.5 L568.9,96.8 L570.1,84.9 L571.9,84.9 L573.8,85.9 L575.6,87.7 L578.0,66.7 L580.1,74.9 L582.9,87.7 L584.7,91.3 L586.0,93.1 L587.1,146.0 L587.8,187.9 L588.3,246.0 L589.3,256.9 L589.3,335.3 L591.1,355.3 L592.0,391.7 L592.9,422.7 L599.1,422.7 L599.1,377.1 L600.0,388.1 L601.3,340.7 L602.8,377.1 L603.7,373.5 L606.0,340.7 L607.3,355.3 L608.2,373.5 L609.1,263.3 L610.0,322.5 L611.5,337.1 L612.8,306.1 L614.2,322.5 L614.4,246.0 L614.4,216.1 L614.8,216.1 L615.0,246.0 L615.1,282.4 L616.4,300.6 L618.2,340.7 L619.1,337.1 L621.0,287.9 L622.8,275.1 L624.6,318.9 L626.4,309.8 L628.3,264.2 L630.1,263.3 L631.9,256.9 L633.0,246.0 L633.4,246.0 L634.6,264.2 L635.2,300.6 L636.4,333.4 L637.4,335.3 L638.8,322.5 L639.5,373.5 L641.0,395.4 L642.8,382.6 L644.6,369.9 L646.5,377.1 L648.3,391.7 L650.1,409.9 L651.0,422.7 L656.7,422.7 L657.0,417.2 L657.4,422.7 L660.1,422.7 L661.0,366.2 L662.9,373.5 L663.8,380.8 L665.6,377.1 L667.4,366.2 L668.3,337.1 L670.1,275.1 L671.1,322.5 L673.8,322.5 L674.7,369.9 L675.6,322.5 L677.4,282.4 L678.9,246.0 L678.2,218.8 L680.0,204.3 L680.9,233.4 L683.7,233.4 L684.6,246.0 L686.4,335.3 L688.2,335.3 L690.0,246.0 L690.0,191.5 L691.5,115.0 L692.8,92.2 L693.3,115.0 L695.5,92.2 L696.4,118.6 L697.3,125.9 L699.1,82.2 L700.1,66.7 L740.7,66.7 L740.7,246.0 L740.7,423.5Z" fill="none" stroke="#000" stroke-width="1" stroke-linejoin="miter" shape-rendering="crispEdges"/>
<rect x="70" y="68" width="1" height="356" fill="#000"/>
<rect x="70" y="423" width="694" height="1" fill="#000"/>
<rect x="63" y="68" width="7" height="1" fill="#000"/>
<rect x="63" y="157" width="7" height="1" fill="#000"/>
<rect x="63" y="246" width="7" height="1" fill="#000"/>
<rect x="63" y="335" width="7" height="1" fill="#000"/>
<rect x="63" y="423" width="7" height="1" fill="#000"/>
<rect x="65" y="112" width="5" height="1" fill="#000"/>
<rect x="65" y="201" width="5" height="1" fill="#000"/>
<rect x="65" y="290" width="5" height="1" fill="#000"/>
<rect x="65" y="379" width="5" height="1" fill="#000"/>
<rect x="70" y="424" width="1" height="7" fill="#000"/>
<rect x="93" y="424" width="1" height="4" fill="#000"/>
<rect x="114" y="424" width="1" height="7" fill="#000"/>
<rect x="137" y="424" width="1" height="4" fill="#000"/>
<rect x="160" y="424" width="1" height="7" fill="#000"/>
<rect x="181" y="424" width="1" height="4" fill="#000"/>
<rect x="204" y="424" width="1" height="7" fill="#000"/>
<rect x="226" y="424" width="1" height="4" fill="#000"/>
<rect x="248" y="424" width="1" height="7" fill="#000"/>
<rect x="271" y="424" width="1" height="4" fill="#000"/>
<rect x="294" y="424" width="1" height="7" fill="#000"/>
<rect x="315" y="424" width="1" height="4" fill="#000"/>
<rect x="338" y="424" width="1" height="7" fill="#000"/>
<rect x="361" y="424" width="1" height="4" fill="#000"/>
<rect x="382" y="424" width="1" height="7" fill="#000"/>
<rect x="405" y="424" width="1" height="4" fill="#000"/>
<rect x="428" y="424" width="1" height="7" fill="#000"/>
<rect x="450" y="424" width="1" height="4" fill="#000"/>
<rect x="472" y="424" width="1" height="7" fill="#000"/>
<rect x="495" y="424" width="1" height="4" fill="#000"/>
<rect x="517" y="424" width="1" height="7" fill="#000"/>
<rect x="539" y="424" width="1" height="4" fill="#000"/>
<rect x="561" y="424" width="1" height="7" fill="#000"/>
<rect x="584" y="424" width="1" height="4" fill="#000"/>
<rect x="606" y="424" width="1" height="7" fill="#000"/>
<rect x="628" y="424" width="1" height="4" fill="#000"/>
<rect x="651" y="424" width="1" height="7" fill="#000"/>
<rect x="673" y="424" width="1" height="4" fill="#000"/>
<rect x="695" y="424" width="1" height="7" fill="#000"/>
<rect x="718" y="424" width="1" height="4" fill="#000"/>
<rect x="740" y="424" width="1" height="7" fill="#000"/>
<rect x="763" y="424" width="1" height="4" fill="#000"/>
<text transform="translate(391,28.7) scale(1,1.07)" class="t">Offshore-Windleistung (Borkum West II Trianel) im</text>
<text transform="translate(391,58.7) scale(1,1.07)" class="t" letter-spacing="0.11">Tennet - Netz im Monat November vom 1.- 30.11. 2010</text>
<text transform="translate(63,77.8) scale(1,1.07)" class="yl">200</text>
<text transform="translate(63,160.9) scale(1,1.07)" class="yl">150</text>
<text transform="translate(63,252.8) scale(1,1.07)" class="yl">100</text>
<text transform="translate(63,342.8) scale(1,1.07)" class="yl">50</text>
<text transform="translate(63,425.9) scale(1,1.07)" class="yl">0</text>
<text transform="translate(70.5,463) scale(1,1.07)" class="xl">1</text>
<text transform="translate(160.5,463) scale(1,1.07)" class="xl">5</text>
<text transform="translate(248.5,463) scale(1,1.07)" class="xl">9</text>
<text transform="translate(338.5,463) scale(1,1.07)" class="xl">13</text>
<text transform="translate(428.5,463) scale(1,1.07)" class="xl">17</text>
<text transform="translate(517.5,463) scale(1,1.07)" class="xl">21</text>
<text transform="translate(606.5,463) scale(1,1.07)" class="xl">25</text>
<text transform="translate(695.5,463) scale(1,1.07)" class="xl">29</text>
<text transform="translate(396.6,485) scale(1,1.07)" class="xt" letter-spacing="0.08">Zeit (Tage der 1/4 h - Leistungswerte)</text>
<text transform="translate(23.7,239.5) rotate(-90) scale(1,1.07)" class="yt">Leistung in MW</text>
<rect x="0" y="503" width="776" height="1" fill="#000"/>
<rect x="0" y="997" width="776" height="1" fill="#000"/>
<rect x="775" y="503" width="1" height="495" fill="#000"/>
<rect x="70" y="571" width="693" height="356" fill="#c0c0c0"/>
<rect x="70" y="571" width="693" height="1" fill="#808080"/>
<rect x="762" y="571" width="1" height="356" fill="#808080"/>
<rect x="70" y="660" width="693" height="1" fill="#000"/>
<rect x="70" y="749" width="693" height="1" fill="#000"/>
<rect x="70" y="838" width="693" height="1" fill="#000"/>
<clipPath id="clip503"><path d="M70.0,926.5 L70.0,659.0 L70.4,676.3 L70.9,712.7 L71.5,730.9 L72.7,738.2 L73.6,749.0 L74.0,772.7 L74.6,827.3 L76.4,838.3 L76.4,885.6 L78.2,900.2 L79.1,912.9 L80.0,920.2 L80.9,907.5 L82.8,894.7 L84.6,876.5 L85.5,827.3 L85.5,749.0 L85.5,749.0 L86.8,703.6 L87.3,676.3 L88.2,654.4 L89.1,642.6 L93.3,642.6 L93.7,672.6 L94.0,642.6 L98.2,642.6 L98.6,637.1 L99.0,665.4 L103.7,665.4 L104.2,659.9 L104.6,694.5 L105.5,749.0 L106.4,838.3 L107.3,874.7 L109.2,874.7 L109.7,749.0 L110.1,749.0 L111.0,694.5 L111.5,654.4 L111.9,638.0 L114.1,629.8 L118.8,629.8 L119.2,659.9 L121.5,659.9 L121.9,720.0 L122.5,690.0 L128.3,690.0 L128.7,720.0 L129.7,692.7 L130.1,676.3 L131.0,629.8 L138.3,629.8 L139.2,636.2 L140.1,694.5 L141.9,705.4 L143.8,707.3 L145.2,665.4 L145.8,749.0 L146.1,809.1 L147.4,838.3 L148.7,809.1 L150.1,838.3 L151.1,809.1 L152.0,749.0 L152.3,678.1 L153.8,654.4 L154.7,665.4 L156.5,636.2 L158.3,629.8 L159.3,661.7 L160.2,725.5 L162.0,749.0 L162.9,749.0 L161.0,746.0 L162.0,760.0 L163.0,824.0 L165.0,756.0 L166.0,824.0 L168.0,808.0 L169.0,874.0 L171.0,874.0 L172.0,742.0 L172.8,742.0 L172.4,840.0 L175.0,830.0 L178.0,796.0 L181.0,784.0 L183.0,774.0 L185.0,760.0 L187.0,732.0 L188.2,721.8 L189.7,719.1 L195.1,719.1 L195.5,714.5 L196.4,683.6 L198.2,659.9 L198.8,709.1 L199.1,749.0 L199.1,749.0 L199.1,900.2 L202.8,909.3 L203.7,884.7 L204.6,925.7 L215.5,925.7 L216.4,920.2 L218.3,912.9 L220.1,909.3 L221.0,867.4 L221.9,838.3 L224.6,818.2 L226.5,780.0 L227.9,749.0 L227.9,749.0 L228.3,736.4 L228.7,749.0 L230.1,776.3 L233.8,803.6 L238.3,838.3 L238.7,855.6 L239.2,838.3 L241.0,803.6 L241.9,749.0 L241.9,749.0 L242.9,725.5 L243.8,707.3 L245.2,690.0 L246.1,730.9 L247.4,730.9 L248.3,736.4 L249.2,730.9 L250.1,736.4 L252.0,743.7 L253.8,730.9 L255.6,730.9 L257.4,741.9 L259.3,743.7 L261.1,749.0 L262.0,749.0 L262.5,690.9 L263.8,685.4 L264.7,659.9 L270.0,659.0 L270.0,665.4 L270.9,730.9 L272.2,689.0 L272.7,730.9 L275.1,689.0 L275.8,730.9 L277.3,749.0 L278.2,749.0 L279.1,794.5 L280.0,831.0 L280.9,872.9 L281.8,831.0 L282.8,749.0 L283.7,689.0 L284.6,749.0 L285.5,749.0 L286.4,785.4 L287.3,810.9 L288.2,858.3 L289.1,810.9 L289.7,749.0 L289.7,700.9 L290.4,749.0 L290.9,749.0 L291.9,818.2 L292.8,858.3 L293.7,909.3 L295.5,925.7 L297.3,912.9 L299.1,909.3 L301.9,896.5 L303.7,898.4 L304.6,905.6 L306.4,914.8 L308.3,916.6 L309.2,925.7 L310.1,887.4 L311.0,855.6 L312.8,855.6 L313.7,880.1 L314.6,887.4 L315.5,907.5 L317.4,909.3 L318.3,925.7 L321.0,909.3 L322.8,918.4 L324.6,925.7 L327.4,920.2 L330.1,916.6 L332.8,907.5 L334.7,880.1 L336.5,854.6 L337.4,903.8 L338.3,925.7 L355.6,925.7 L356.0,924.4 L358.9,922.9 L359.7,843.1 L360.3,796.7 L361.2,843.1 L362.6,825.7 L364.7,814.1 L366.1,770.6 L367.6,750.3 L369.0,767.7 L370.5,727.1 L371.9,756.1 L373.4,689.3 L374.2,727.1 L375.4,700.9 L377.1,698.0 L378.6,715.4 L380.6,698.0 L382.1,683.5 L382.9,727.1 L383.5,741.6 L384.4,848.9 L385.3,727.1 L386.4,706.7 L387.9,732.9 L389.3,756.1 L390.8,764.8 L392.2,802.5 L393.1,915.7 L394.0,802.5 L395.1,814.1 L396.6,843.1 L398.0,901.2 L398.9,756.1 L399.8,907.0 L400.9,814.1 L402.4,814.1 L402.8,749.0 L403.2,720.0 L404.6,712.7 L406.1,654.4 L407.3,649.0 L411.5,649.0 L412.3,667.2 L413.2,672.6 L414.3,642.6 L419.2,642.6 L419.5,667.2 L421.0,672.6 L422.8,679.9 L424.6,694.5 L425.6,725.5 L426.8,749.0 L426.5,749.0 L426.5,809.1 L428.3,831.0 L430.1,858.3 L431.0,891.1 L432.8,900.2 L434.7,912.9 L435.6,920.2 L435.9,894.7 L436.3,920.2 L437.4,925.7 L450.1,925.7 L451.1,885.6 L451.1,820.0 L452.9,818.2 L452.9,749.0 L453.8,749.0 L454.2,654.4 L456.5,652.6 L458.3,647.1 L460.2,618.9 L460.7,672.6 L462.0,636.2 L463.8,636.2 L464.7,659.9 L465.6,636.2 L466.9,607.1 L470.0,607.1 L470.0,607.1 L471.8,601.6 L472.7,607.1 L475.1,607.1 L475.5,749.0 L475.8,858.3 L476.4,912.9 L476.9,858.3 L477.7,749.0 L477.7,749.0 L478.2,608.9 L480.0,607.1 L482.8,608.9 L486.4,606.2 L490.0,607.1 L492.8,600.7 L493.7,607.1 L495.5,608.0 L498.2,600.7 L499.1,607.1 L506.4,607.1 L511.9,606.2 L512.8,588.9 L514.6,583.4 L517.0,577.9 L523.7,577.9 L524.6,588.9 L525.6,621.6 L526.5,661.7 L529.2,661.7 L529.7,588.9 L530.1,577.0 L543.8,577.0 L544.7,621.6 L545.6,672.6 L547.4,661.7 L548.0,749.0 L548.3,749.0 L549.2,803.6 L550.1,909.3 L551.1,803.6 L553.4,749.0 L553.8,749.0 L553.8,577.9 L554.7,571.6 L570.0,571.6 L570.0,601.6 L573.6,601.6 L574.0,577.6 L604.2,577.6 L604.6,571.0 L605.0,577.6 L627.9,577.6 L628.3,588.9 L630.1,676.3 L631.0,683.6 L631.9,749.0 L633.8,803.6 L635.6,858.3 L636.5,909.3 L637.4,858.3 L639.2,812.8 L640.1,749.0 L643.8,749.0 L644.3,628.9 L645.6,577.6 L647.4,577.6 L648.0,601.6 L670.0,601.6 L670.0,601.6 L681.8,601.6 L682.4,630.8 L683.7,643.5 L684.6,630.8 L686.4,639.9 L688.2,658.1 L689.1,683.6 L690.0,694.5 L691.9,721.8 L692.8,738.2 L693.7,749.0 L693.3,801.8 L694.2,749.0 L695.1,749.0 L695.1,577.6 L701.3,577.6 L701.9,612.5 L702.8,636.2 L705.5,638.0 L707.3,676.3 L707.9,720.0 L708.6,679.9 L709.7,625.3 L711.9,603.4 L712.4,577.6 L724.3,577.6 L724.6,601.6 L727.4,607.1 L728.3,621.6 L730.1,649.0 L731.0,672.6 L731.6,749.0 L732.8,736.4 L735.6,741.9 L738.3,736.4 L739.2,767.2 L740.1,803.6 L741.0,838.3 L741.9,889.3 L742.9,894.7 L744.7,909.3 L746.1,920.2 L747.4,894.7 L748.3,860.1 L749.2,894.7 L751.1,912.9 L752.9,849.2 L754.7,849.2 L755.6,900.2 L757.4,876.5 L759.3,843.7 L760.2,861.9 L761.1,872.9 L762.0,891.1 L762.0,926.5Z"/></clipPath>
<path d="M70.0,926.5 L70.0,659.0 L70.4,676.3 L70.9,712.7 L71.5,730.9 L72.7,738.2 L73.6,749.0 L74.0,772.7 L74.6,827.3 L76.4,838.3 L76.4,885.6 L78.2,900.2 L79.1,912.9 L80.0,920.2 L80.9,907.5 L82.8,894.7 L84.6,876.5 L85.5,827.3 L85.5,749.0 L85.5,749.0 L86.8,703.6 L87.3,676.3 L88.2,654.4 L89.1,642.6 L93.3,642.6 L93.7,672.6 L94.0,642.6 L98.2,642.6 L98.6,637.1 L99.0,665.4 L103.7,665.4 L104.2,659.9 L104.6,694.5 L105.5,749.0 L106.4,838.3 L107.3,874.7 L109.2,874.7 L109.7,749.0 L110.1,749.0 L111.0,694.5 L111.5,654.4 L111.9,638.0 L114.1,629.8 L118.8,629.8 L119.2,659.9 L121.5,659.9 L121.9,720.0 L122.5,690.0 L128.3,690.0 L128.7,720.0 L129.7,692.7 L130.1,676.3 L131.0,629.8 L138.3,629.8 L139.2,636.2 L140.1,694.5 L141.9,705.4 L143.8,707.3 L145.2,665.4 L145.8,749.0 L146.1,809.1 L147.4,838.3 L148.7,809.1 L150.1,838.3 L151.1,809.1 L152.0,749.0 L152.3,678.1 L153.8,654.4 L154.7,665.4 L156.5,636.2 L158.3,629.8 L159.3,661.7 L160.2,725.5 L162.0,749.0 L162.9,749.0 L161.0,746.0 L162.0,760.0 L163.0,824.0 L165.0,756.0 L166.0,824.0 L168.0,808.0 L169.0,874.0 L171.0,874.0 L172.0,742.0 L172.8,742.0 L172.4,840.0 L175.0,830.0 L178.0,796.0 L181.0,784.0 L183.0,774.0 L185.0,760.0 L187.0,732.0 L188.2,721.8 L189.7,719.1 L195.1,719.1 L195.5,714.5 L196.4,683.6 L198.2,659.9 L198.8,709.1 L199.1,749.0 L199.1,749.0 L199.1,900.2 L202.8,909.3 L203.7,884.7 L204.6,925.7 L215.5,925.7 L216.4,920.2 L218.3,912.9 L220.1,909.3 L221.0,867.4 L221.9,838.3 L224.6,818.2 L226.5,780.0 L227.9,749.0 L227.9,749.0 L228.3,736.4 L228.7,749.0 L230.1,776.3 L233.8,803.6 L238.3,838.3 L238.7,855.6 L239.2,838.3 L241.0,803.6 L241.9,749.0 L241.9,749.0 L242.9,725.5 L243.8,707.3 L245.2,690.0 L246.1,730.9 L247.4,730.9 L248.3,736.4 L249.2,730.9 L250.1,736.4 L252.0,743.7 L253.8,730.9 L255.6,730.9 L257.4,741.9 L259.3,743.7 L261.1,749.0 L262.0,749.0 L262.5,690.9 L263.8,685.4 L264.7,659.9 L270.0,659.0 L270.0,665.4 L270.9,730.9 L272.2,689.0 L272.7,730.9 L275.1,689.0 L275.8,730.9 L277.3,749.0 L278.2,749.0 L279.1,794.5 L280.0,831.0 L280.9,872.9 L281.8,831.0 L282.8,749.0 L283.7,689.0 L284.6,749.0 L285.5,749.0 L286.4,785.4 L287.3,810.9 L288.2,858.3 L289.1,810.9 L289.7,749.0 L289.7,700.9 L290.4,749.0 L290.9,749.0 L291.9,818.2 L292.8,858.3 L293.7,909.3 L295.5,925.7 L297.3,912.9 L299.1,909.3 L301.9,896.5 L303.7,898.4 L304.6,905.6 L306.4,914.8 L308.3,916.6 L309.2,925.7 L310.1,887.4 L311.0,855.6 L312.8,855.6 L313.7,880.1 L314.6,887.4 L315.5,907.5 L317.4,909.3 L318.3,925.7 L321.0,909.3 L322.8,918.4 L324.6,925.7 L327.4,920.2 L330.1,916.6 L332.8,907.5 L334.7,880.1 L336.5,854.6 L337.4,903.8 L338.3,925.7 L355.6,925.7 L356.0,924.4 L358.9,922.9 L359.7,843.1 L360.3,796.7 L361.2,843.1 L362.6,825.7 L364.7,814.1 L366.1,770.6 L367.6,750.3 L369.0,767.7 L370.5,727.1 L371.9,756.1 L373.4,689.3 L374.2,727.1 L375.4,700.9 L377.1,698.0 L378.6,715.4 L380.6,698.0 L382.1,683.5 L382.9,727.1 L383.5,741.6 L384.4,848.9 L385.3,727.1 L386.4,706.7 L387.9,732.9 L389.3,756.1 L390.8,764.8 L392.2,802.5 L393.1,915.7 L394.0,802.5 L395.1,814.1 L396.6,843.1 L398.0,901.2 L398.9,756.1 L399.8,907.0 L400.9,814.1 L402.4,814.1 L402.8,749.0 L403.2,720.0 L404.6,712.7 L406.1,654.4 L407.3,649.0 L411.5,649.0 L412.3,667.2 L413.2,672.6 L414.3,642.6 L419.2,642.6 L419.5,667.2 L421.0,672.6 L422.8,679.9 L424.6,694.5 L425.6,725.5 L426.8,749.0 L426.5,749.0 L426.5,809.1 L428.3,831.0 L430.1,858.3 L431.0,891.1 L432.8,900.2 L434.7,912.9 L435.6,920.2 L435.9,894.7 L436.3,920.2 L437.4,925.7 L450.1,925.7 L451.1,885.6 L451.1,820.0 L452.9,818.2 L452.9,749.0 L453.8,749.0 L454.2,654.4 L456.5,652.6 L458.3,647.1 L460.2,618.9 L460.7,672.6 L462.0,636.2 L463.8,636.2 L464.7,659.9 L465.6,636.2 L466.9,607.1 L470.0,607.1 L470.0,607.1 L471.8,601.6 L472.7,607.1 L475.1,607.1 L475.5,749.0 L475.8,858.3 L476.4,912.9 L476.9,858.3 L477.7,749.0 L477.7,749.0 L478.2,608.9 L480.0,607.1 L482.8,608.9 L486.4,606.2 L490.0,607.1 L492.8,600.7 L493.7,607.1 L495.5,608.0 L498.2,600.7 L499.1,607.1 L506.4,607.1 L511.9,606.2 L512.8,588.9 L514.6,583.4 L517.0,577.9 L523.7,577.9 L524.6,588.9 L525.6,621.6 L526.5,661.7 L529.2,661.7 L529.7,588.9 L530.1,577.0 L543.8,577.0 L544.7,621.6 L545.6,672.6 L547.4,661.7 L548.0,749.0 L548.3,749.0 L549.2,803.6 L550.1,909.3 L551.1,803.6 L553.4,749.0 L553.8,749.0 L553.8,577.9 L554.7,571.6 L570.0,571.6 L570.0,601.6 L573.6,601.6 L574.0,577.6 L604.2,577.6 L604.6,571.0 L605.0,577.6 L627.9,577.6 L628.3,588.9 L630.1,676.3 L631.0,683.6 L631.9,749.0 L633.8,803.6 L635.6,858.3 L636.5,909.3 L637.4,858.3 L639.2,812.8 L640.1,749.0 L643.8,749.0 L644.3,628.9 L645.6,577.6 L647.4,577.6 L648.0,601.6 L670.0,601.6 L670.0,601.6 L681.8,601.6 L682.4,630.8 L683.7,643.5 L684.6,630.8 L686.4,639.9 L688.2,658.1 L689.1,683.6 L690.0,694.5 L691.9,721.8 L692.8,738.2 L693.7,749.0 L693.3,801.8 L694.2,749.0 L695.1,749.0 L695.1,577.6 L701.3,577.6 L701.9,612.5 L702.8,636.2 L705.5,638.0 L707.3,676.3 L707.9,720.0 L708.6,679.9 L709.7,625.3 L711.9,603.4 L712.4,577.6 L724.3,577.6 L724.6,601.6 L727.4,607.1 L728.3,621.6 L730.1,649.0 L731.0,672.6 L731.6,749.0 L732.8,736.4 L735.6,741.9 L738.3,736.4 L739.2,767.2 L740.1,803.6 L741.0,838.3 L741.9,889.3 L742.9,894.7 L744.7,909.3 L746.1,920.2 L747.4,894.7 L748.3,860.1 L749.2,894.7 L751.1,912.9 L752.9,849.2 L754.7,849.2 L755.6,900.2 L757.4,876.5 L759.3,843.7 L760.2,861.9 L761.1,872.9 L762.0,891.1 L762.0,926.5Z" fill="#3a9a66" shape-rendering="auto"/>
<g clip-path="url(#clip503)">
<path d="M76.4,885.6 L80.9,885.6 L80.9,907.5 L80.0,920.2 L78.2,912.9Z" fill="#000" shape-rendering="auto"/>
<path d="M87.3,654.4 L89.1,654.4 L89.1,676.3 L87.3,676.3Z" fill="#000" shape-rendering="auto"/>
<path d="M111.0,636.2 L115.5,636.2 L115.5,658.1 L111.0,658.1Z" fill="#000" shape-rendering="auto"/>
<path d="M141.0,676.3 L144.7,676.3 L144.7,749.0 L141.0,749.0Z" fill="#000" shape-rendering="auto"/>
<path d="M141.0,749.0 L144.7,749.0 L144.7,803.6 L141.0,803.6Z" fill="#000" shape-rendering="auto"/>
<path d="M152.3,678.1 L154.7,678.1 L154.7,749.0 L152.3,749.0Z" fill="#000" shape-rendering="auto"/>
<path d="M158.9,661.7 L161.1,661.7 L162.0,749.0 L159.3,749.0Z" fill="#000" shape-rendering="auto"/>
<path d="M159.3,749.0 L164.7,749.0 L164.7,759.9 L159.3,759.9Z" fill="#000" shape-rendering="auto"/>
<path d="M195.5,683.6 L199.1,683.6 L199.1,749.0 L195.5,749.0Z" fill="#000" shape-rendering="auto"/>
<path d="M199.1,900.2 L202.8,900.2 L202.8,909.3 L199.1,909.3Z" fill="#000" shape-rendering="auto"/>
<path d="M224.6,780.0 L228.3,780.0 L230.1,825.5 L224.6,825.5Z" fill="#000" shape-rendering="auto"/>
<path d="M242.9,749.0 L262.0,749.0 L261.1,769.0 L242.9,769.0Z" fill="#000" fill-opacity="0.65" shape-rendering="auto"/>
<path d="M242.9,690.0 L246.1,690.0 L246.1,749.0 L242.9,749.0Z" fill="#000" shape-rendering="auto"/>
<path d="M246.1,727.3 L262.0,727.3 L262.0,749.0 L246.1,749.0Z" fill="#000" fill-opacity="0.65" shape-rendering="auto"/>
<path d="M264.7,659.0 L270.0,659.0 L270.0,665.4 L264.7,665.4Z" fill="#000" shape-rendering="auto"/>
<path d="M270.0,694.5 L271.8,694.5 L271.8,749.0 L270.0,749.0Z" fill="#000" shape-rendering="auto"/>
<path d="M278.2,749.0 L280.0,749.0 L281.3,872.9 L280.6,872.9Z" fill="#000" shape-rendering="auto"/>
<path d="M287.3,749.0 L288.2,749.0 L288.6,858.3 L287.9,858.3Z" fill="#000" shape-rendering="auto"/>
<path d="M414.3,642.6 L419.2,642.6 L419.2,649.0 L414.3,649.0Z" fill="#000" shape-rendering="auto"/>
<path d="M412.3,654.4 L414.6,654.4 L414.6,672.6 L412.3,672.6Z" fill="#000" shape-rendering="auto"/>
<path d="M420.1,672.6 L422.8,672.6 L426.5,725.5 L424.6,749.0 L423.7,725.5Z" fill="#000" shape-rendering="auto"/>
<path d="M427.9,831.0 L430.1,831.0 L435.9,920.2 L434.1,920.2Z" fill="#000" shape-rendering="auto"/>
<path d="M466.5,607.1 L470.0,607.1 L470.0,614.4 L466.5,614.4Z" fill="#000" shape-rendering="auto"/>
<path d="M530.1,577.0 L532.8,577.0 L532.8,601.6 L530.1,601.6Z" fill="#000" shape-rendering="auto"/>
<path d="M477.3,749.0 L482.8,749.0 L482.8,778.1 L477.3,778.1Z" fill="#000" shape-rendering="auto"/>
<path d="M494.4,749.0 L495.1,749.0 L495.1,791.8 L494.4,791.8Z" fill="#000" shape-rendering="auto"/>
<path d="M515.4,749.0 L516.1,749.0 L516.1,784.5 L515.4,784.5Z" fill="#000" shape-rendering="auto"/>
<path d="M527.9,749.0 L528.7,749.0 L528.7,820.0 L527.9,820.0Z" fill="#000" shape-rendering="auto"/>
<path d="M573.6,601.6 L575.5,601.6 L575.5,607.1 L573.6,607.1Z" fill="#000" shape-rendering="auto"/>
<path d="M605.2,749.0 L606.1,749.0 L605.9,809.1 L605.3,809.1Z" fill="#000" shape-rendering="auto"/>
<path d="M631.9,749.0 L633.8,749.0 L637.0,909.3 L635.9,909.3Z" fill="#000" shape-rendering="auto"/>
<path d="M641.9,749.0 L643.8,749.0 L643.8,783.6 L641.9,783.6Z" fill="#000" shape-rendering="auto"/>
<path d="M648.0,749.0 L648.7,749.0 L648.7,778.1 L648.0,778.1Z" fill="#000" shape-rendering="auto"/>
<path d="M663.8,601.6 L666.5,601.6 L666.5,619.8 L663.8,619.8Z" fill="#000" shape-rendering="auto"/>
<path d="M670.0,601.6 L675.5,601.6 L675.5,623.5 L670.0,623.5Z" fill="#000" shape-rendering="auto"/>
<path d="M681.3,601.6 L683.1,601.6 L686.4,639.9 L690.0,694.5 L694.0,749.0 L691.9,749.0 L688.2,694.5 L684.6,649.0Z" fill="#000" shape-rendering="auto"/>
<path d="M695.1,577.6 L697.3,577.6 L697.3,588.9 L695.1,588.9Z" fill="#000" shape-rendering="auto"/>
<path d="M701.3,612.5 L704.6,636.2 L708.6,679.9 L708.3,720.0 L706.4,676.3 L702.8,649.0Z" fill="#000" shape-rendering="auto"/>
<path d="M709.2,621.6 L712.8,621.6 L712.8,630.8 L709.2,630.8Z" fill="#000" shape-rendering="auto"/>
<path d="M722.8,577.6 L724.6,577.6 L728.7,621.6 L731.9,749.0 L730.1,749.0 L728.3,649.0Z" fill="#000" shape-rendering="auto"/>
<path d="M692.6,749.0 L693.7,749.0 L693.7,801.8 L692.6,801.8Z" fill="#000" shape-rendering="auto"/>
<path d="M731.0,749.0 L739.2,749.0 L740.1,790.9 L732.8,790.9Z" fill="#000" shape-rendering="auto"/>
<path d="M358.9,922.9 L360.3,796.7 L367.6,750.3 L371.3,750.3 L369.6,828.6 L365.0,901.2Z" fill="#000" shape-rendering="auto"/>
<path d="M367.6,750.3 L373.4,689.3 L386.4,706.7 L393.7,779.3 L390.8,802.5 L371.9,802.5Z" fill="#000" fill-opacity="0.65" shape-rendering="auto"/>
<path d="M377.1,727.1 L378.3,727.1 L378.3,843.1 L377.1,843.1Z" fill="#000" shape-rendering="auto"/>
<path d="M383.5,741.6 L384.7,741.6 L384.7,848.9 L383.5,848.9Z" fill="#000" shape-rendering="auto"/>
<path d="M390.8,764.8 L395.1,814.1 L398.0,901.2 L399.8,907.0 L397.5,907.0 L393.7,843.1Z" fill="#000" shape-rendering="auto"/>
<path d="M476.9,607.4 L496.7,607.4 L496.7,700.0 L476.9,700.0Z" fill="#000" shape-rendering="auto"/>
<path d="M512.2,577.7 L524.9,577.7 L524.9,649.8 L517.9,692.2 L513.6,692.2Z" fill="#000" shape-rendering="auto"/>
<path d="M466.3,607.4 L476.9,607.4 L476.9,664.0 L466.3,635.7Z" fill="#000" fill-opacity="0.4" shape-rendering="auto"/>
<path d="M496.7,601.8 L512.2,607.4 L512.2,618.7 L503.7,621.6 L496.7,649.8Z" fill="#000" shape-rendering="auto"/>
<path d="M467.0,607.4 L474.7,607.4 L474.0,615.9 L467.7,615.9Z" fill="#000" shape-rendering="auto"/>
<path d="M477.3,749.0 L482.8,749.0 L482.8,778.1 L477.3,778.1Z" fill="#000" shape-rendering="auto"/>
<path d="M596.8,577.7 L622.2,577.7 L622.2,593.3 L596.8,593.3Z" fill="#000" shape-rendering="auto"/>
<path d="M596.8,593.3 L602.4,593.3 L602.4,614.5 L598.2,614.5Z" fill="#000" shape-rendering="auto"/>
<path d="M612.3,593.3 L622.2,593.3 L620.8,649.8 L616.6,649.8 L613.0,628.6Z" fill="#000" shape-rendering="auto"/>
<path d="M599.6,614.5 L601.7,614.5 L601.3,700.0 L600.2,700.0Z" fill="#000" shape-rendering="auto"/>
<path d="M602.4,593.3 L608.1,593.3 L605.2,672.5 L603.8,672.5Z" fill="#000" shape-rendering="auto"/>
<path d="M616.6,649.8 L620.8,649.8 L620.5,685.2 L619.4,685.2Z" fill="#000" shape-rendering="auto"/>
<path d="M560.0,571.4 L568.5,571.4 L568.5,601.8 L560.0,601.8Z" fill="#000" fill-opacity="0.65" shape-rendering="auto"/>
<path d="M583.3,577.7 L586.2,577.7 L585.2,690.8 L584.0,690.8Z" fill="#000" shape-rendering="auto"/>
<path d="M627.2,589.0 L630.7,601.8 L631.4,685.2 L629.3,685.2 L627.9,607.4Z" fill="#000" shape-rendering="auto"/>
<path d="M553.8,571.6 L562.9,571.6 L562.9,577.0 L553.8,577.0Z" fill="#000" fill-opacity="0.65" shape-rendering="auto"/>
<path d="M169.0,874.0 L172.0,840.0 L175.0,830.0 L178.0,796.0 L181.0,784.0 L185.0,760.0 L187.0,732.0 L188.4,740.0 L187.0,770.0 L183.6,790.0 L180.4,806.0 L177.6,832.0 L174.4,848.0 L172.4,874.0Z" fill="#000" shape-rendering="auto"/>
<path d="M160.0,700.0 L162.4,700.0 L163.0,824.0 L161.0,824.0Z" fill="#000" shape-rendering="auto"/>
<path d="M470.5,621.6 L486.8,621.6 L486.8,664.0 L470.5,664.0Z" fill="#000" fill-opacity="0.4" shape-rendering="auto"/>
<path d="M475.5,687.4 L491.2,687.4 L487.5,720.3 L483.1,778.7 L480.2,822.5 L476.2,822.5Z" fill="#000" shape-rendering="auto"/>
<path d="M604.7,596.2 L606.1,596.2 L606.1,807.9 L604.7,807.9Z" fill="#000" shape-rendering="auto"/>
<path d="M599.2,676.5 L600.7,676.5 L600.7,731.2 L599.2,731.2Z" fill="#000" shape-rendering="auto"/>
<path d="M613.8,603.5 L615.3,603.5 L615.3,749.5 L613.8,749.5Z" fill="#000" shape-rendering="auto"/>
<path d="M70.0,659.0 L70.7,659.0 L71.6,730.9 L70.0,730.9Z" fill="#000" shape-rendering="auto"/>
</g>
<path d="M629.9,658.2 L632.0,658.2 L636.1,859.0 L634.6,859.0Z" fill="#000" shape-rendering="auto"/>
<path d="M640.1,702.0 L644.1,702.0 L643.0,786.0 L639.3,786.0Z" fill="#000" shape-rendering="auto"/>
<path d="M70.0,926.5 L70.0,659.0 L70.4,676.3 L70.9,712.7 L71.5,730.9 L72.7,738.2 L73.6,749.0 L74.0,772.7 L74.6,827.3 L76.4,838.3 L76.4,885.6 L78.2,900.2 L79.1,912.9 L80.0,920.2 L80.9,907.5 L82.8,894.7 L84.6,876.5 L85.5,827.3 L85.5,749.0 L85.5,749.0 L86.8,703.6 L87.3,676.3 L88.2,654.4 L89.1,642.6 L93.3,642.6 L93.7,672.6 L94.0,642.6 L98.2,642.6 L98.6,637.1 L99.0,665.4 L103.7,665.4 L104.2,659.9 L104.6,694.5 L105.5,749.0 L106.4,838.3 L107.3,874.7 L109.2,874.7 L109.7,749.0 L110.1,749.0 L111.0,694.5 L111.5,654.4 L111.9,638.0 L114.1,629.8 L118.8,629.8 L119.2,659.9 L121.5,659.9 L121.9,720.0 L122.5,690.0 L128.3,690.0 L128.7,720.0 L129.7,692.7 L130.1,676.3 L131.0,629.8 L138.3,629.8 L139.2,636.2 L140.1,694.5 L141.9,705.4 L143.8,707.3 L145.2,665.4 L145.8,749.0 L146.1,809.1 L147.4,838.3 L148.7,809.1 L150.1,838.3 L151.1,809.1 L152.0,749.0 L152.3,678.1 L153.8,654.4 L154.7,665.4 L156.5,636.2 L158.3,629.8 L159.3,661.7 L160.2,725.5 L162.0,749.0 L162.9,749.0 L161.0,746.0 L162.0,760.0 L163.0,824.0 L165.0,756.0 L166.0,824.0 L168.0,808.0 L169.0,874.0 L171.0,874.0 L172.0,742.0 L172.8,742.0 L172.4,840.0 L175.0,830.0 L178.0,796.0 L181.0,784.0 L183.0,774.0 L185.0,760.0 L187.0,732.0 L188.2,721.8 L189.7,719.1 L195.1,719.1 L195.5,714.5 L196.4,683.6 L198.2,659.9 L198.8,709.1 L199.1,749.0 L199.1,749.0 L199.1,900.2 L202.8,909.3 L203.7,884.7 L204.6,925.7 L215.5,925.7 L216.4,920.2 L218.3,912.9 L220.1,909.3 L221.0,867.4 L221.9,838.3 L224.6,818.2 L226.5,780.0 L227.9,749.0 L227.9,749.0 L228.3,736.4 L228.7,749.0 L230.1,776.3 L233.8,803.6 L238.3,838.3 L238.7,855.6 L239.2,838.3 L241.0,803.6 L241.9,749.0 L241.9,749.0 L242.9,725.5 L243.8,707.3 L245.2,690.0 L246.1,730.9 L247.4,730.9 L248.3,736.4 L249.2,730.9 L250.1,736.4 L252.0,743.7 L253.8,730.9 L255.6,730.9 L257.4,741.9 L259.3,743.7 L261.1,749.0 L262.0,749.0 L262.5,690.9 L263.8,685.4 L264.7,659.9 L270.0,659.0 L270.0,665.4 L270.9,730.9 L272.2,689.0 L272.7,730.9 L275.1,689.0 L275.8,730.9 L277.3,749.0 L278.2,749.0 L279.1,794.5 L280.0,831.0 L280.9,872.9 L281.8,831.0 L282.8,749.0 L283.7,689.0 L284.6,749.0 L285.5,749.0 L286.4,785.4 L287.3,810.9 L288.2,858.3 L289.1,810.9 L289.7,749.0 L289.7,700.9 L290.4,749.0 L290.9,749.0 L291.9,818.2 L292.8,858.3 L293.7,909.3 L295.5,925.7 L297.3,912.9 L299.1,909.3 L301.9,896.5 L303.7,898.4 L304.6,905.6 L306.4,914.8 L308.3,916.6 L309.2,925.7 L310.1,887.4 L311.0,855.6 L312.8,855.6 L313.7,880.1 L314.6,887.4 L315.5,907.5 L317.4,909.3 L318.3,925.7 L321.0,909.3 L322.8,918.4 L324.6,925.7 L327.4,920.2 L330.1,916.6 L332.8,907.5 L334.7,880.1 L336.5,854.6 L337.4,903.8 L338.3,925.7 L355.6,925.7 L356.0,924.4 L358.9,922.9 L359.7,843.1 L360.3,796.7 L361.2,843.1 L362.6,825.7 L364.7,814.1 L366.1,770.6 L367.6,750.3 L369.0,767.7 L370.5,727.1 L371.9,756.1 L373.4,689.3 L374.2,727.1 L375.4,700.9 L377.1,698.0 L378.6,715.4 L380.6,698.0 L382.1,683.5 L382.9,727.1 L383.5,741.6 L384.4,848.9 L385.3,727.1 L386.4,706.7 L387.9,732.9 L389.3,756.1 L390.8,764.8 L392.2,802.5 L393.1,915.7 L394.0,802.5 L395.1,814.1 L396.6,843.1 L398.0,901.2 L398.9,756.1 L399.8,907.0 L400.9,814.1 L402.4,814.1 L402.8,749.0 L403.2,720.0 L404.6,712.7 L406.1,654.4 L407.3,649.0 L411.5,649.0 L412.3,667.2 L413.2,672.6 L414.3,642.6 L419.2,642.6 L419.5,667.2 L421.0,672.6 L422.8,679.9 L424.6,694.5 L425.6,725.5 L426.8,749.0 L426.5,749.0 L426.5,809.1 L428.3,831.0 L430.1,858.3 L431.0,891.1 L432.8,900.2 L434.7,912.9 L435.6,920.2 L435.9,894.7 L436.3,920.2 L437.4,925.7 L450.1,925.7 L451.1,885.6 L451.1,820.0 L452.9,818.2 L452.9,749.0 L453.8,749.0 L454.2,654.4 L456.5,652.6 L458.3,647.1 L460.2,618.9 L460.7,672.6 L462.0,636.2 L463.8,636.2 L464.7,659.9 L465.6,636.2 L466.9,607.1 L470.0,607.1 L470.0,607.1 L471.8,601.6 L472.7,607.1 L475.1,607.1 L475.5,749.0 L475.8,858.3 L476.4,912.9 L476.9,858.3 L477.7,749.0 L477.7,749.0 L478.2,608.9 L480.0,607.1 L482.8,608.9 L486.4,606.2 L490.0,607.1 L492.8,600.7 L493.7,607.1 L495.5,608.0 L498.2,600.7 L499.1,607.1 L506.4,607.1 L511.9,606.2 L512.8,588.9 L514.6,583.4 L517.0,577.9 L523.7,577.9 L524.6,588.9 L525.6,621.6 L526.5,661.7 L529.2,661.7 L529.7,588.9 L530.1,577.0 L543.8,577.0 L544.7,621.6 L545.6,672.6 L547.4,661.7 L548.0,749.0 L548.3,749.0 L549.2,803.6 L550.1,909.3 L551.1,803.6 L553.4,749.0 L553.8,749.0 L553.8,577.9 L554.7,571.6 L570.0,571.6 L570.0,601.6 L573.6,601.6 L574.0,577.6 L604.2,577.6 L604.6,571.0 L605.0,577.6 L627.9,577.6 L628.3,588.9 L630.1,676.3 L631.0,683.6 L631.9,749.0 L633.8,803.6 L635.6,858.3 L636.5,909.3 L637.4,858.3 L639.2,812.8 L640.1,749.0 L643.8,749.0 L644.3,628.9 L645.6,577.6 L647.4,577.6 L648.0,601.6 L670.0,601.6 L670.0,601.6 L681.8,601.6 L682.4,630.8 L683.7,643.5 L684.6,630.8 L686.4,639.9 L688.2,658.1 L689.1,683.6 L690.0,694.5 L691.9,721.8 L692.8,738.2 L693.7,749.0 L693.3,801.8 L694.2,749.0 L695.1,749.0 L695.1,577.6 L701.3,577.6 L701.9,612.5 L702.8,636.2 L705.5,638.0 L707.3,676.3 L707.9,720.0 L708.6,679.9 L709.7,625.3 L711.9,603.4 L712.4,577.6 L724.3,577.6 L724.6,601.6 L727.4,607.1 L728.3,621.6 L730.1,649.0 L731.0,672.6 L731.6,749.0 L732.8,736.4 L735.6,741.9 L738.3,736.4 L739.2,767.2 L740.1,803.6 L741.0,838.3 L741.9,889.3 L742.9,894.7 L744.7,909.3 L746.1,920.2 L747.4,894.7 L748.3,860.1 L749.2,894.7 L751.1,912.9 L752.9,849.2 L754.7,849.2 L755.6,900.2 L757.4,876.5 L759.3,843.7 L760.2,861.9 L761.1,872.9 L762.0,891.1 L762.0,926.5Z" fill="none" stroke="#000" stroke-width="1" stroke-linejoin="miter" shape-rendering="crispEdges"/>
<rect x="70" y="571" width="1" height="356" fill="#000"/>
<rect x="70" y="926" width="693" height="1" fill="#000"/>
<rect x="63" y="571" width="7" height="1" fill="#000"/>
<rect x="63" y="660" width="7" height="1" fill="#000"/>
<rect x="63" y="749" width="7" height="1" fill="#000"/>
<rect x="63" y="838" width="7" height="1" fill="#000"/>
<rect x="63" y="926" width="7" height="1" fill="#000"/>
<rect x="65" y="615" width="5" height="1" fill="#000"/>
<rect x="65" y="704" width="5" height="1" fill="#000"/>
<rect x="65" y="793" width="5" height="1" fill="#000"/>
<rect x="65" y="882" width="5" height="1" fill="#000"/>
<rect x="70" y="927" width="1" height="7" fill="#000"/>
<rect x="93" y="927" width="1" height="4" fill="#000"/>
<rect x="114" y="927" width="1" height="7" fill="#000"/>
<rect x="137" y="927" width="1" height="4" fill="#000"/>
<rect x="160" y="927" width="1" height="7" fill="#000"/>
<rect x="181" y="927" width="1" height="4" fill="#000"/>
<rect x="204" y="927" width="1" height="7" fill="#000"/>
<rect x="226" y="927" width="1" height="4" fill="#000"/>
<rect x="248" y="927" width="1" height="7" fill="#000"/>
<rect x="271" y="927" width="1" height="4" fill="#000"/>
<rect x="293" y="927" width="1" height="7" fill="#000"/>
<rect x="315" y="927" width="1" height="4" fill="#000"/>
<rect x="338" y="927" width="1" height="7" fill="#000"/>
<rect x="360" y="927" width="1" height="4" fill="#000"/>
<rect x="382" y="927" width="1" height="7" fill="#000"/>
<rect x="405" y="927" width="1" height="4" fill="#000"/>
<rect x="427" y="927" width="1" height="7" fill="#000"/>
<rect x="450" y="927" width="1" height="4" fill="#000"/>
<rect x="471" y="927" width="1" height="7" fill="#000"/>
<rect x="494" y="927" width="1" height="4" fill="#000"/>
<rect x="517" y="927" width="1" height="7" fill="#000"/>
<rect x="538" y="927" width="1" height="4" fill="#000"/>
<rect x="561" y="927" width="1" height="7" fill="#000"/>
<rect x="584" y="927" width="1" height="4" fill="#000"/>
<rect x="605" y="927" width="1" height="7" fill="#000"/>
<rect x="628" y="927" width="1" height="4" fill="#000"/>
<rect x="651" y="927" width="1" height="7" fill="#000"/>
<rect x="673" y="927" width="1" height="4" fill="#000"/>
<rect x="695" y="927" width="1" height="7" fill="#000"/>
<rect x="718" y="927" width="1" height="4" fill="#000"/>
<rect x="739" y="927" width="1" height="7" fill="#000"/>
<rect x="762" y="927" width="1" height="4" fill="#000"/>
<text transform="translate(391,531.7) scale(1,1.07)" class="t">Offshore-Windleistung (Borkum West II Trianel) im</text>
<text transform="translate(391,561.7) scale(1,1.07)" class="t" letter-spacing="0.03">Tennet - Netz im Monat Oktober vom 1.- 31.10. 2010</text>
<text transform="translate(63,580.8) scale(1,1.07)" class="yl">200</text>
<text transform="translate(63,663.9) scale(1,1.07)" class="yl">150</text>
<text transform="translate(63,755.8) scale(1,1.07)" class="yl">100</text>
<text transform="translate(63,845.8) scale(1,1.07)" class="yl">50</text>
<text transform="translate(63,928.9) scale(1,1.07)" class="yl">0</text>
<text transform="translate(70.5,966) scale(1,1.07)" class="xl">1</text>
<text transform="translate(160.5,966) scale(1,1.07)" class="xl">5</text>
<text transform="translate(248.5,966) scale(1,1.07)" class="xl">9</text>
<text transform="translate(338.5,966) scale(1,1.07)" class="xl">13</text>
<text transform="translate(427.5,966) scale(1,1.07)" class="xl">17</text>
<text transform="translate(517.5,966) scale(1,1.07)" class="xl">21</text>
<text transform="translate(605.5,966) scale(1,1.07)" class="xl">25</text>
<text transform="translate(695.5,966) scale(1,1.07)" class="xl">29</text>
<text transform="translate(396.6,988) scale(1,1.07)" class="xt" letter-spacing="0.08">Zeit (Tage der 1/4 h - Leistungswerte)</text>
<text transform="translate(23.7,742.5) rotate(-90) scale(1,1.07)" class="yt">Leistung in MW</text>
</svg>
</body></html>
